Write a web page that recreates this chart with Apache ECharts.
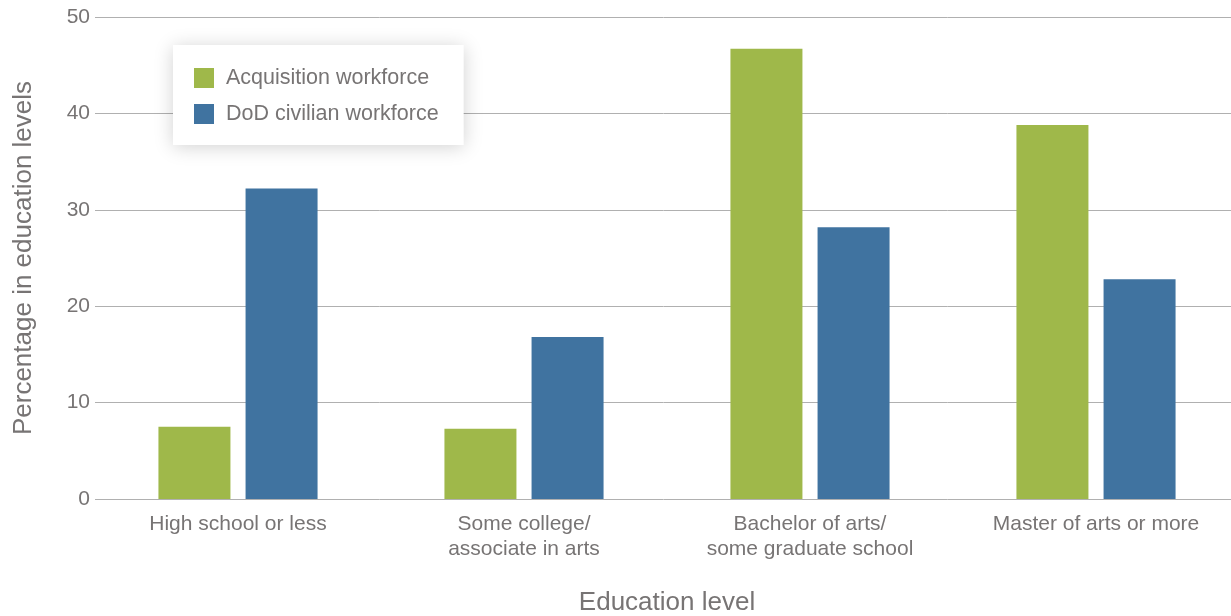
<!DOCTYPE html>
<html>
<head>
<meta charset="utf-8">
<script src="https://cdn.jsdelivr.net/npm/echarts@6/dist/echarts.min.js"></script>
<style>
  html, body { margin: 0; padding: 0; background: #fff; }
  #chart { width: 1231px; height: 616px; }
</style>
</head>
<body>
<div id="chart"></div>
<script>
// education levels on the x axis
const categories = [
  'High school or less',
  'Some college/\nassociate in arts',
  'Bachelor of arts/\nsome graduate school',
  'Master of arts or more'
]
const seriesNames = ['Acquisition workforce', 'DoD civilian workforce']
const acquisition = [7.5, 7.3, 46.7, 38.8]
const dodCivilian = [32.2, 16.8, 28.2, 22.8]

const textColor = '#777474'
const font = "'Liberation Sans', Arial, sans-serif"

let myChart = echarts.init(document.getElementById('chart'), null, { renderer: 'canvas' })

var option = {
  animation: false,
  textStyle: { fontFamily: font },
  grid: {
    left: 95,
    right: -8,
    top: 17,
    bottom: 117,
    outerBoundsMode: 'none',
    containLabel: false
  },
  legend: {
    left: 173,
    top: 45,
    orient: 'vertical',
    data: seriesNames,
    icon: 'rect',
    itemWidth: 20,
    itemHeight: 20,
    itemGap: 14,
    padding: [22, 25, 20, 21],
    backgroundColor: '#fff',
    shadowBlur: 18,
    shadowColor: 'rgba(0,0,0,0.18)',
    shadowOffsetY: 2,
    textStyle: { color: textColor, fontSize: 21.5, fontFamily: font, padding: [0, 0, 0, 7] }
  },
  xAxis: {
    type: 'category',
    data: categories,
    name: 'Education level',
    nameLocation: 'middle',
    nameGap: 91,
    nameTextStyle: { color: textColor, fontSize: 26, fontFamily: font },
    axisLine: { show: false },
    axisTick: { show: false },
    axisLabel: {
      color: textColor,
      fontSize: 21,
      lineHeight: 25,
      margin: 13,
      fontFamily: font
    }
  },
  yAxis: {
    type: 'value',
    min: 0,
    max: 50,
    interval: 10,
    name: 'Percentage in education levels',
    nameLocation: 'middle',
    nameGap: 58,
    nameTextStyle: { color: textColor, fontSize: 26, fontFamily: font },
    axisLabel: { color: textColor, fontSize: 21, margin: 5, fontFamily: font },
    splitLine: { lineStyle: { color: '#b0b0b0', width: 1 } }
  },
  series: [
    {
      name: seriesNames[0],
      type: 'bar',
      data: acquisition,
      barWidth: 72,
      barGap: '21%',
      itemStyle: { color: '#9fb84a' }
    },
    {
      name: seriesNames[1],
      type: 'bar',
      data: dodCivilian,
      barWidth: 72,
      barGap: '21%',
      itemStyle: { color: '#4073a0' }
    }
  ]
}

myChart.setOption(option, true)
</script>
</body>
</html>
